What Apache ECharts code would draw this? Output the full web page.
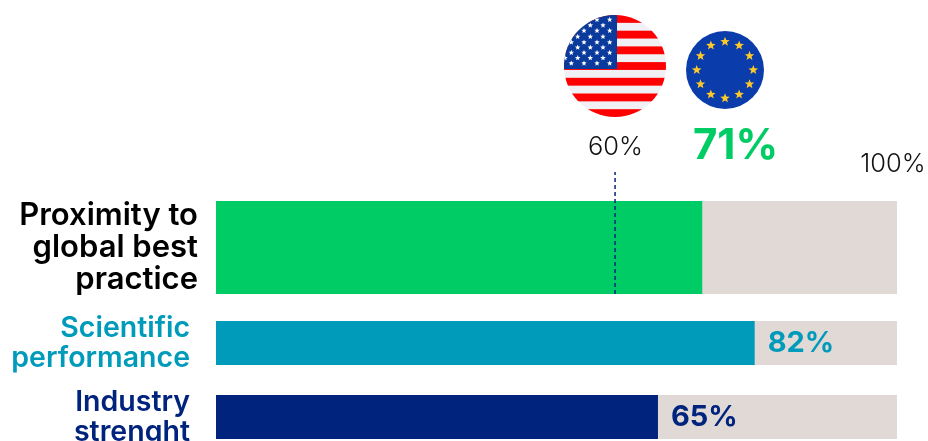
<!DOCTYPE html>
<html><head><meta charset="utf-8">
<style>html,body{margin:0;padding:0;background:#fff}#c{width:928px;height:441px}</style>
<script src="https://cdn.jsdelivr.net/npm/echarts@6/dist/echarts.min.js"></script>
</head><body><div id="c"></div>
<script>
const categories = ["Proximity to\nglobal best\npractice", "Scientific\nperformance", "Industry\nstrenght"];
const barValues = [71.4, 79.1, 64.9];
const barLabels = ["71%", "82%", "65%"];
const barColors = ["#00cc66", "#009bbb", "#00247d"];
const usBenchmark = 58.6;
const benchmarkLabels = ["60%", "100%"];

function star(cx, cy, r, fill) {
  let p = [];
  for (let i = 0; i < 10; i++) {
    const a = -Math.PI / 2 + i * Math.PI / 5, rr = i % 2 ? r * 0.42 : r;
    p.push((cx + rr * Math.cos(a)).toFixed(2) + "," + (cy + rr * Math.sin(a)).toFixed(2));
  }
  return `<polygon points="${p.join(" ")}" fill="${fill}"/>`;
}
function usFlag() {
  let s = '<svg xmlns="http://www.w3.org/2000/svg" width="102" height="102" viewBox="0 0 102 102"><defs><clipPath id="k"><circle cx="51" cy="51" r="51"/></clipPath></defs><g clip-path="url(#k)"><rect width="102" height="102" fill="#f0f0f5"/>';
  for (let i = 0; i < 13; i += 2) s += `<rect x="0" y="${(i * 7.85).toFixed(2)}" width="102" height="7.85" fill="#ff0000"/>`;
  s += '<rect width="53" height="54" fill="#0a3a9c"/>';
  const rows = [4.7, 10.3, 15.7, 21.7, 27.3, 32.5, 37.7, 43, 48.3];
  rows.forEach((y, i) => {
    const xs = i % 2 ? [1, 13.7, 26.3, 39] : [7.3, 20, 33, 45.7];
    xs.forEach(x => { s += star(x, y, 2.9, "#fff"); });
  });
  return "data:image/svg+xml;charset=utf-8," + encodeURIComponent(s + "</g></svg>");
}
function euFlag() {
  let s = '<svg xmlns="http://www.w3.org/2000/svg" width="78" height="78" viewBox="0 0 78 78"><circle cx="39" cy="39" r="39" fill="#0a3cac"/>';
  for (let i = 0; i < 12; i++) {
    const a = i * Math.PI / 6;
    s += star(39 + 28.3 * Math.cos(a), 39 + 28.3 * Math.sin(a), 5, "#ffc928");
  }
  return "data:image/svg+xml;charset=utf-8," + encodeURIComponent(s + "</svg>");
}

const plotLeft = 216, plotWidth = 681;
const tops = [201, 321, 395], heights = [93, 44, 44];
const catFont = [{size: 31, margin: 18, lh: 32}, {size: 28.5, margin: 26, lh: 30}, {size: 28.5, margin: 26, lh: 30}];
const FONT = "Inter";

const grid = [], xAxis = [], yAxis = [], series = [];
categories.forEach((c, i) => {
  grid.push({left: plotLeft, width: plotWidth, top: tops[i], height: heights[i], containLabel: false, outerBoundsMode: "none"});
  xAxis.push({type: "value", gridIndex: i, min: 0, max: 100, show: false});
  yAxis.push({type: "category", gridIndex: i, data: [c],
    axisLine: {show: false}, axisTick: {show: false},
    axisLabel: {align: "right", margin: catFont[i].margin, fontFamily: FONT, fontWeight: 600,
      fontSize: catFont[i].size, lineHeight: catFont[i].lh, color: i === 0 ? "#000" : barColors[i]}});
  series.push({type: "bar", xAxisIndex: i, yAxisIndex: i, barWidth: "100%", silent: true,
    data: [barValues[i]], itemStyle: {color: barColors[i]},
    showBackground: true, backgroundStyle: {color: "#e0d9d6"},
    label: i === 0 ? {show: false} : {show: true, position: "right", distance: 13,
      formatter: barLabels[i], fontFamily: FONT, fontWeight: 700, fontSize: 29, color: barColors[i]}});
});
grid.push({left: plotLeft, width: plotWidth, top: 172, height: 122, containLabel: false, outerBoundsMode: "none"});
xAxis.push({type: "value", gridIndex: 3, min: 0, max: 100, show: false});
yAxis.push({type: "value", gridIndex: 3, min: 0, max: 1, show: false});
series.push({type: "line", xAxisIndex: 3, yAxisIndex: 3, symbol: "none", silent: true, z: 5,
  data: [[usBenchmark, 0], [usBenchmark, 1]],
  lineStyle: {color: "#00247d", width: 1.5, type: [4, 3]}});

const chart = echarts.init(document.getElementById("c"), null, {renderer: "canvas"});
chart.setOption({
  animation: false, grid, xAxis, yAxis, series,
  graphic: [
    {type: "image", left: 564, top: 15, style: {image: usFlag(), width: 102, height: 102}},
    {type: "image", left: 686, top: 31, style: {image: euFlag(), width: 78, height: 78}},
    {type: "text", x: 615.5, y: 147, style: {text: benchmarkLabels[0], align: "center", verticalAlign: "middle", font: "300 25.5px Inter", fill: "#111"}},
    {type: "text", x: 893, y: 164, style: {text: benchmarkLabels[1], align: "center", verticalAlign: "middle", font: "300 25.5px Inter", fill: "#111"}},
    {type: "text", x: 735.5, y: 146, style: {text: barLabels[0], align: "center", verticalAlign: "middle", font: "700 42px Inter", fill: barColors[0]}}
  ]
});
</script></body></html>
